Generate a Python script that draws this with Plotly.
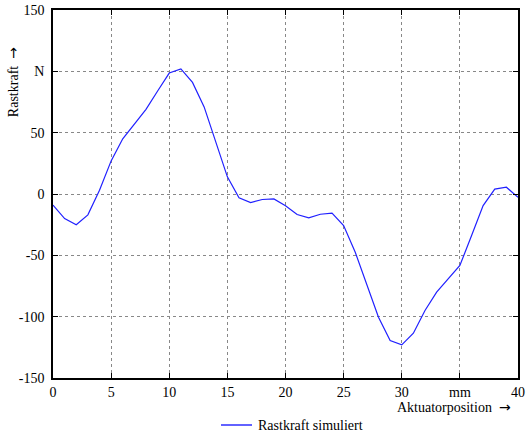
import plotly.graph_objects as go

position_mm = list(range(0, 41))
rastkraft_N = [-9, -20, -25, -17, 3, 27, 45, 57, 69, 84, 98.6, 102, 91, 71, 42, 14,
               -3, -7, -4.5, -4, -9.5, -16.7, -19.5, -16.5, -15.6, -25.7, -47.5, -74.6,
               -100.5, -119.5, -123, -113.5, -95, -80, -69, -58.3, -34, -9.4, 4, 5.5, -2.6]

x_tickvals = [0, 5, 10, 15, 20, 25, 30, 35, 40]
x_ticktext = ["0", "5", "10", "15", "20", "25", "30", "mm", "40"]
y_tickvals = [-150, -100, -50, 0, 50, 100, 150]
y_ticktext = ["-150", "-100", "-50", "0", "50", "N", "150"]
series_name = "Rastkraft simuliert"

font = "Liberation Serif, serif"
arrow = "<span style='font-family:DejaVu Sans'>\u2192</span>"
line_color = "#2020ff"

fig = go.Figure()
fig.add_trace(go.Scatter(x=position_mm, y=rastkraft_N, mode="lines",
                         line=dict(color=line_color, width=1.2),
                         name=series_name, showlegend=False))

axis_common = dict(showline=True, linecolor="black", linewidth=1.5, mirror="ticks",
                   ticks="inside", ticklen=5, tickcolor="black", automargin=False,
                   showgrid=True, gridcolor="#888888", griddash="dot", gridwidth=1,
                   zeroline=False, tickfont=dict(family=font, size=14, color="black"))

fig.update_xaxes(range=[0, 40], tickvals=x_tickvals, ticktext=x_ticktext, **axis_common)
fig.update_yaxes(range=[-150, 150], tickvals=y_tickvals, ticktext=y_ticktext,
                 ticklabelstandoff=4, **axis_common)

# legend drawn as sample line + label (kept below the axes)
fig.add_shape(type="line", xref="paper", yref="paper",
              x0=(221 - 53) / 465, x1=(252 - 53) / 465, y0=-47 / 368, y1=-47 / 368,
              line=dict(color=line_color, width=2), opacity=0.7)

fig.update_layout(
    width=527, height=434,
    margin=dict(l=53, r=9, t=10, b=56),
    plot_bgcolor="white", paper_bgcolor="white",
    font=dict(family=font, size=14, color="black"),
    showlegend=False,
    annotations=[
        dict(text="Rastkraft  " + arrow, xref="paper", yref="paper", x=-0.086, y=0.804,
             textangle=-90, showarrow=False, font=dict(family=font, size=14),
             xanchor="center", yanchor="middle"),
        dict(text="Aktuatorposition  " + arrow, xref="paper", yref="paper", x=0.989,
             y=-29 / 368, showarrow=False, font=dict(family=font, size=14),
             xanchor="right", yanchor="middle"),
        dict(text=series_name, xref="paper", yref="paper", x=(256 - 53) / 465,
             y=-47 / 368, showarrow=False, font=dict(family=font, size=14),
             xanchor="left", yanchor="middle"),
    ],
)

fig.write_html("out.html", config={"displayModeBar": False},
               post_script="document.body.style.margin='0';document.body.style.padding='0';")
